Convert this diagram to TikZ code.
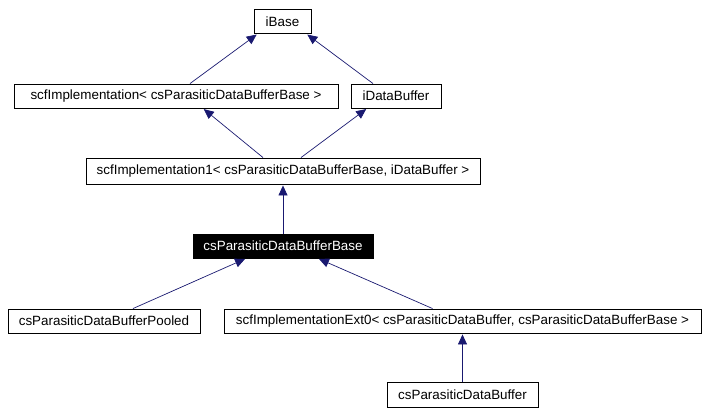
\documentclass[tikz,border=0pt]{standalone}
\usepackage{fontspec}
\setmainfont{Liberation Sans}
\usetikzlibrary{arrows.meta}
\definecolor{edgeblue}{HTML}{191970}
\begin{document}
\begin{tikzpicture}[x=1pt,y=-1pt,
  cls/.style={draw=black,line width=0.9pt,fill=white,inner sep=0pt,
    font=\fontsize{13.4}{15}\selectfont,text=black},
  hl/.style={cls,fill=black,text=white},
  inh/.style={draw=edgeblue,line width=0.7pt,
    -{Triangle[length=10pt,width=9pt,fill=edgeblue]}},
  inhs/.style={inh,shorten >=1pt}]
\useasboundingbox (0,0) rectangle (706,415);
\node[cls,minimum width=57pt,minimum height=24pt] (ibase) at (282.5,21.5) {iBase};
\node[cls,minimum width=324pt,minimum height=24pt] (scfimpl) at (176,96) {scfImplementation< csParasiticDataBufferBase >};
\node[cls,minimum width=90pt,minimum height=24pt] (idb) at (396,96) {iDataBuffer};
\node[cls,minimum width=394pt,minimum height=26pt] (scfimpl1) at (283,171) {scfImplementation1< csParasiticDataBufferBase, iDataBuffer >};
\node[hl,minimum width=180pt,minimum height=24pt] (base) at (283,246) {csParasiticDataBufferBase};
\node[cls,minimum width=192pt,minimum height=24pt] (pooled) at (104,321) {csParasiticDataBufferPooled};
\node[cls,minimum width=477pt,minimum height=24pt] (ext0) at (462.5,321) {scfImplementationExt0< csParasiticDataBuffer, csParasiticDataBufferBase >};
\node[cls,minimum width=151pt,minimum height=25pt] (pdb) at (462.5,394.5) {csParasiticDataBuffer};

\draw[inhs] ([xshift=14pt]scfimpl.north) -- ([xshift=-25pt]ibase.south);
\draw[inhs] ([xshift=-23pt]idb.north) -- ([xshift=24pt]ibase.south);
\draw[inhs] ([xshift=-20pt]scfimpl1.north) -- ([xshift=27pt]scfimpl.south);
\draw[inhs] ([xshift=18pt]scfimpl1.north) -- ([xshift=-29pt]idb.south);
\draw[inhs] (base.north) -- (scfimpl1.south);
\draw[inhs] ([xshift=29pt]pooled.north) -- ([xshift=-37pt]base.south);
\draw[inhs] ([xshift=-30pt]ext0.north) -- ([xshift=35pt]base.south);
\draw[inhs] (pdb.north) -- (ext0.south);
\end{tikzpicture}
\end{document}
